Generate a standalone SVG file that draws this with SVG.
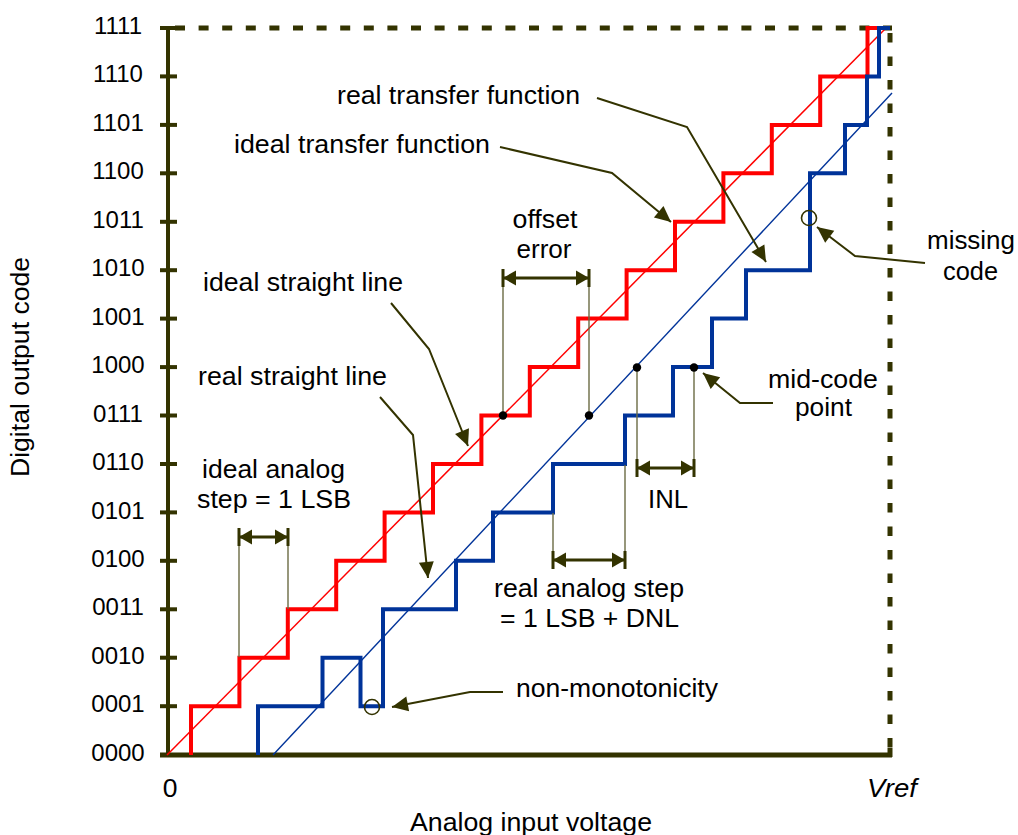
<svg xmlns="http://www.w3.org/2000/svg" width="1018" height="835" viewBox="0 0 1018 835">
<style>
.lbl{font-family:"Liberation Sans",Arial,sans-serif;font-size:26.5px;fill:#000}
.tick{font-family:"Liberation Sans",Arial,sans-serif;font-size:24px;fill:#000;text-anchor:middle}
.axis{stroke:#333300;fill:none}
.lead{stroke:#333300;stroke-width:2;fill:none}
.ext{stroke:#6b6b44;stroke-width:1.4;fill:none}
.dim{stroke:#333300;stroke-width:3;fill:none}
.dot{fill:#000}
.circ{stroke:#333300;stroke-width:1.6;fill:none}
</style>
<defs>
<marker id="ah" markerUnits="userSpaceOnUse" viewBox="-17 -9 18 18" markerWidth="18" markerHeight="18" refX="0" refY="0" orient="auto">
<path d="M0,0 L-16,-7.5 L-16,7.5 Z" fill="#333300"/>
</marker>
<marker id="dm" markerUnits="userSpaceOnUse" viewBox="-14 -10 16 20" markerWidth="16" markerHeight="20" refX="0" refY="0" orient="auto-start-reverse">
<path d="M0,0 L-13,-7.5 L-13,7.5 Z" fill="#333300"/>
<rect x="-1.5" y="-9" width="3" height="18" fill="#333300"/>
</marker>
</defs>
<rect width="1018" height="835" fill="#fff"/>

<g id="axes">
<line class="axis" x1="168" y1="26" x2="168" y2="757" stroke-width="4"/>
<line class="axis" x1="160" y1="755" x2="892" y2="755" stroke-width="5"/>
<line class="axis" x1="890" y1="748" x2="890" y2="757" stroke-width="5"/>
<line class="axis" x1="175" y1="28" x2="892" y2="28" stroke-width="5" stroke-dasharray="10 13.6"/>
<line class="axis" x1="890" y1="33" x2="890" y2="748" stroke-width="5" stroke-dasharray="9.5 14"/>
<g id="ticks" class="axis" stroke-width="4">
<line x1="160" y1="28" x2="177" y2="28"/>
<line x1="160" y1="76.4" x2="177" y2="76.4"/>
<line x1="160" y1="124.9" x2="177" y2="124.9"/>
<line x1="160" y1="173.3" x2="177" y2="173.3"/>
<line x1="160" y1="221.8" x2="177" y2="221.8"/>
<line x1="160" y1="270.2" x2="177" y2="270.2"/>
<line x1="160" y1="318.6" x2="177" y2="318.6"/>
<line x1="160" y1="367.1" x2="177" y2="367.1"/>
<line x1="160" y1="415.5" x2="177" y2="415.5"/>
<line x1="160" y1="464" x2="177" y2="464"/>
<line x1="160" y1="512.4" x2="177" y2="512.4"/>
<line x1="160" y1="560.8" x2="177" y2="560.8"/>
<line x1="160" y1="609.3" x2="177" y2="609.3"/>
<line x1="160" y1="657.7" x2="177" y2="657.7"/>
<line x1="160" y1="706.2" x2="177" y2="706.2"/>
</g>
</g>

<g id="tick-labels">
<text class="tick" x="118" y="33.5">1111</text>
<text class="tick" x="118" y="82">1110</text>
<text class="tick" x="118" y="130.5">1101</text>
<text class="tick" x="118" y="179">1100</text>
<text class="tick" x="118" y="227.5">1011</text>
<text class="tick" x="118" y="276">1010</text>
<text class="tick" x="118" y="324.5">1001</text>
<text class="tick" x="118" y="373">1000</text>
<text class="tick" x="118" y="421.5">0111</text>
<text class="tick" x="118" y="470">0110</text>
<text class="tick" x="118" y="518.5">0101</text>
<text class="tick" x="118" y="567">0100</text>
<text class="tick" x="118" y="615">0011</text>
<text class="tick" x="118" y="663.5">0010</text>
<text class="tick" x="118" y="712">0001</text>
<text class="tick" x="118" y="760.5">0000</text>
</g>

<g id="axis-titles">
<text class="lbl" x="170" y="797" text-anchor="middle">0</text>
<text class="lbl" x="867" y="797" font-style="italic" textLength="50" lengthAdjust="spacingAndGlyphs">Vref</text>
<text class="lbl" x="531" y="831" text-anchor="middle" textLength="242" lengthAdjust="spacingAndGlyphs">Analog input voltage</text>
<text class="lbl" transform="translate(29,367) rotate(-90)" x="0" y="0" text-anchor="middle" textLength="220" lengthAdjust="spacingAndGlyphs">Digital output code</text>
</g>

<g id="ideal-line">
<line x1="167" y1="755" x2="886" y2="28" stroke="#ff0000" stroke-width="1.5"/>
</g>
<g id="real-line">
<line x1="273" y1="755" x2="892" y2="93" stroke="#003399" stroke-width="1.4"/>
</g>
<g id="ideal-transfer">
<path d="M191,755 V706.2 H239.4 V657.7 H287.8 V609.3 H336.2 V560.8 H384.6 V512.4 H433 V464 H481.4 V415.5 H529.8 V367.1 H578.2 V318.6 H626.6 V270.2 H675 V221.8 H723.4 V173.3 H771.8 V124.9 H820.2 V76.4 H867.5 V28 H886" fill="none" stroke="#ff0000" stroke-width="4"/>
</g>
<g id="real-transfer">
<path d="M258,755 V706.2 H322.5 V657.7 H360.5 V706.2 H383 V609.3 H456 V560.8 H493 V512.4 H553 V464 H625 V415.5 H673 V367.1 H712 V318.6 H746 V270.2 H810 V173.3 H845 V124.9 H867 V76.4 H879 V28 H890" fill="none" stroke="#003399" stroke-width="4"/>
</g>

<g id="connectors">
<path class="lead" d="M597,98 L687,127 L766,262" marker-end="url(#ah)"/>
<path class="lead" d="M500,147 L612,173 L671,222" marker-end="url(#ah)"/>
<path class="lead" d="M391,303 L429,349 L468,446" marker-end="url(#ah)"/>
<path class="lead" d="M380,397 L413,435 L428,578" marker-end="url(#ah)"/>
<path class="lead" d="M925,263 L855,256 L817,227" marker-end="url(#ah)"/>
<path class="lead" d="M773,403 L740,403 L703,373" marker-end="url(#ah)"/>
<path class="lead" d="M503,692 L470,692 L392,707" marker-end="url(#ah)"/>
<line class="ext" x1="503" y1="416" x2="503" y2="270"/>
<line class="ext" x1="589" y1="416" x2="589" y2="270"/>
<line class="ext" x1="637" y1="368" x2="637" y2="477"/>
<line class="ext" x1="694" y1="368" x2="694" y2="477"/>
<line class="ext" x1="553" y1="513" x2="553" y2="568"/>
<line class="ext" x1="625" y1="465" x2="625" y2="568"/>
<line class="ext" x1="239" y1="657" x2="239" y2="528"/>
<line class="ext" x1="288" y1="609" x2="288" y2="528"/>
<path class="dim" d="M503,278 H589" marker-start="url(#dm)" marker-end="url(#dm)"/>
<path class="dim" d="M637,468 H694" marker-start="url(#dm)" marker-end="url(#dm)"/>
<path class="dim" d="M553,560 H625" marker-start="url(#dm)" marker-end="url(#dm)"/>
<path class="dim" d="M239,537 H288" marker-start="url(#dm)" marker-end="url(#dm)"/>
</g>

<g id="points">
<circle class="dot" cx="503" cy="415.5" r="4.2"/>
<circle class="dot" cx="589" cy="415.5" r="4.2"/>
<circle class="dot" cx="637" cy="367.5" r="4.2"/>
<circle class="dot" cx="694" cy="367.5" r="4.2"/>
<circle class="circ" cx="809" cy="218" r="7.5"/>
<circle class="circ" cx="372" cy="707" r="7.5"/>
</g>

<g id="label-real-transfer"><text class="lbl" x="337" y="104" textLength="243" lengthAdjust="spacingAndGlyphs">real transfer function</text></g>
<g id="label-ideal-transfer"><text class="lbl" x="234" y="153" textLength="256" lengthAdjust="spacingAndGlyphs">ideal transfer function</text></g>
<g id="label-offset"><text class="lbl" x="545" y="228" text-anchor="middle" textLength="65" lengthAdjust="spacingAndGlyphs">offset</text><text class="lbl" x="544" y="258" text-anchor="middle" textLength="55" lengthAdjust="spacingAndGlyphs">error</text></g>
<g id="label-ideal-straight"><text class="lbl" x="203" y="291" textLength="200" lengthAdjust="spacingAndGlyphs">ideal straight line</text></g>
<g id="label-real-straight"><text class="lbl" x="198" y="385" textLength="189" lengthAdjust="spacingAndGlyphs">real straight line</text></g>
<g id="label-ideal-step"><text class="lbl" x="273.5" y="478" text-anchor="middle" textLength="143" lengthAdjust="spacingAndGlyphs">ideal analog</text><text class="lbl" x="274" y="508" text-anchor="middle" textLength="154" lengthAdjust="spacingAndGlyphs">step = 1 LSB</text></g>
<g id="label-midcode"><text class="lbl" x="823" y="388" text-anchor="middle" textLength="110" lengthAdjust="spacingAndGlyphs">mid-code</text><text class="lbl" x="823.5" y="416" text-anchor="middle" textLength="57" lengthAdjust="spacingAndGlyphs">point</text></g>
<g id="label-inl"><text class="lbl" x="668" y="508" text-anchor="middle" textLength="40" lengthAdjust="spacingAndGlyphs">INL</text></g>
<g id="label-real-step"><text class="lbl" x="589" y="597" text-anchor="middle" textLength="190" lengthAdjust="spacingAndGlyphs">real analog step</text><text class="lbl" x="589.5" y="627" text-anchor="middle" textLength="179" lengthAdjust="spacingAndGlyphs">= 1 LSB + DNL</text></g>
<g id="label-nonmono"><text class="lbl" x="516" y="697" textLength="202" lengthAdjust="spacingAndGlyphs">non-monotonicity</text></g>
<g id="label-missing"><text class="lbl" x="971" y="249" text-anchor="middle" textLength="88" lengthAdjust="spacingAndGlyphs">missing</text><text class="lbl" x="970.5" y="280" text-anchor="middle" textLength="55" lengthAdjust="spacingAndGlyphs">code</text></g>
</svg>
